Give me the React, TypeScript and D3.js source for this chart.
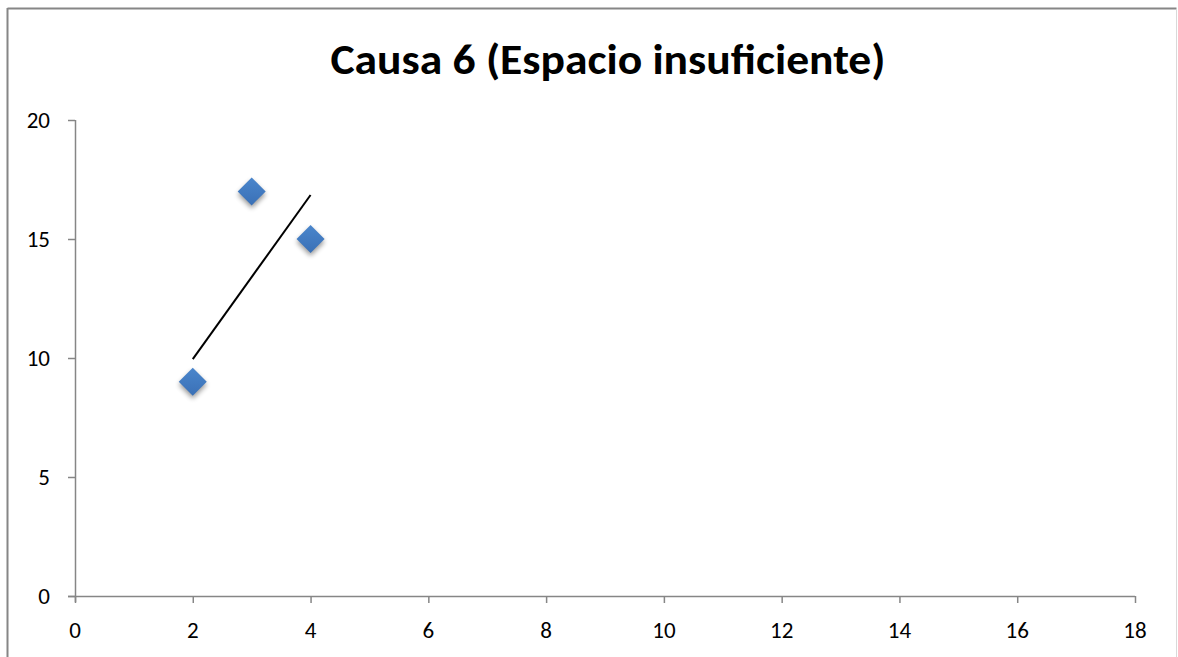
import React from "react";
import * as d3 from "d3";

// Observations
const xValues = [2, 3, 4];
const yValues = [9, 17, 15];

// Linear trendline end points
const trendX = [2, 4];
const trendY = [9.95, 16.85];

const xTicks = [0, 2, 4, 6, 8, 10, 12, 14, 16, 18];
const yTicks = [0, 5, 10, 15, 20];

const title = "Causa 6 (Espacio insuficiente)";

const W = 1178;
const H = 657;

export default function App() {
  const x = d3.scaleLinear().domain([0, 18]).range([75, 1135]);
  const y = d3.scaleLinear().domain([0, 20]).range([596, 120]);
  const axisColor = "#868686";
  const font = "Carlito, Lato, 'Open Sans', sans-serif";

  const trend = d3
    .line<number>()
    .x((_, i) => x(trendX[i]))
    .y((d) => y(d))(trendY);

  const r = 14;
  const diamond = `M0,${-r} L${r},0 L0,${r} L${-r},0 Z`;

  return (
    <div style={{ position: "fixed", left: 0, top: 0 }}>
      <svg width={W} height={H} style={{ display: "block" }}>
        <defs>
          <linearGradient id="mk" x1="0" y1="0" x2="0" y2="1">
            <stop offset="0" stopColor="#4a86cc" />
            <stop offset="1" stopColor="#3a70b6" />
          </linearGradient>
          <filter id="sh" x="-50%" y="-50%" width="200%" height="200%">
            <feGaussianBlur stdDeviation="2.4" />
          </filter>
        </defs>
        <rect x={0} y={0} width={W} height={H} fill="#fff" />
        {/* chart frame */}
        <line x1={7.5} y1={8.5} x2={1176.5} y2={8.5} stroke={axisColor} strokeWidth={2} />
        <line x1={7.5} y1={8} x2={7.5} y2={H} stroke={axisColor} strokeWidth={2} />
        <line x1={1176.5} y1={9} x2={1176.5} y2={H} stroke="#d9d9d9" strokeWidth={1} />

        <text
          x={(x(0) + x(18)) / 2 + 3}
          y={74}
          textAnchor="middle"
          fontFamily={font}
          fontWeight="bold"
          fontSize={42}
          fill="#000"
          textLength={555}
          lengthAdjust="spacingAndGlyphs"
        >
          {title}
        </text>

        {/* y axis */}
        <line x1={x(0) + 0.5} y1={y(20)} x2={x(0) + 0.5} y2={y(0) + 6} stroke={axisColor} strokeWidth={1.5} />
        {yTicks.map((t) => (
          <g key={"y" + t}>
            <line x1={x(0) - 7} x2={x(0)} y1={y(t) + 0.5} y2={y(t) + 0.5} stroke={axisColor} strokeWidth={1.5} />
            <text
              x={50}
              y={y(t) + 8}
              textAnchor="end"
              fontFamily={font}
              fontSize={23}
              fill="#000"
            >
              {t}
            </text>
          </g>
        ))}

        {/* x axis */}
        <line x1={x(0) - 7} y1={y(0) + 0.5} x2={x(18)} y2={y(0) + 0.5} stroke={axisColor} strokeWidth={1.5} />
        {xTicks.map((t) => (
          <g key={"x" + t}>
            <line x1={x(t) + 0.5} x2={x(t) + 0.5} y1={y(0)} y2={y(0) + 7} stroke={axisColor} strokeWidth={1.5} />
            <text
              x={x(t)}
              y={638}
              textAnchor="middle"
              fontFamily={font}
              fontSize={23}
              fill="#000"
            >
              {t}
            </text>
          </g>
        ))}

        {/* markers */}
        {xValues.map((xv, i) => (
          <g key={"m" + i} transform={`translate(${x(xv)},${y(yValues[i])})`}>
            <path d={diamond} transform="translate(0,3)" fill="#000" opacity={0.4} filter="url(#sh)" />
            <path d={diamond} fill="url(#mk)" />
          </g>
        ))}

        {/* trendline */}
        <path d={trend ?? ""} fill="none" stroke="#000" strokeWidth={2} />
      </svg>
    </div>
  );
}
